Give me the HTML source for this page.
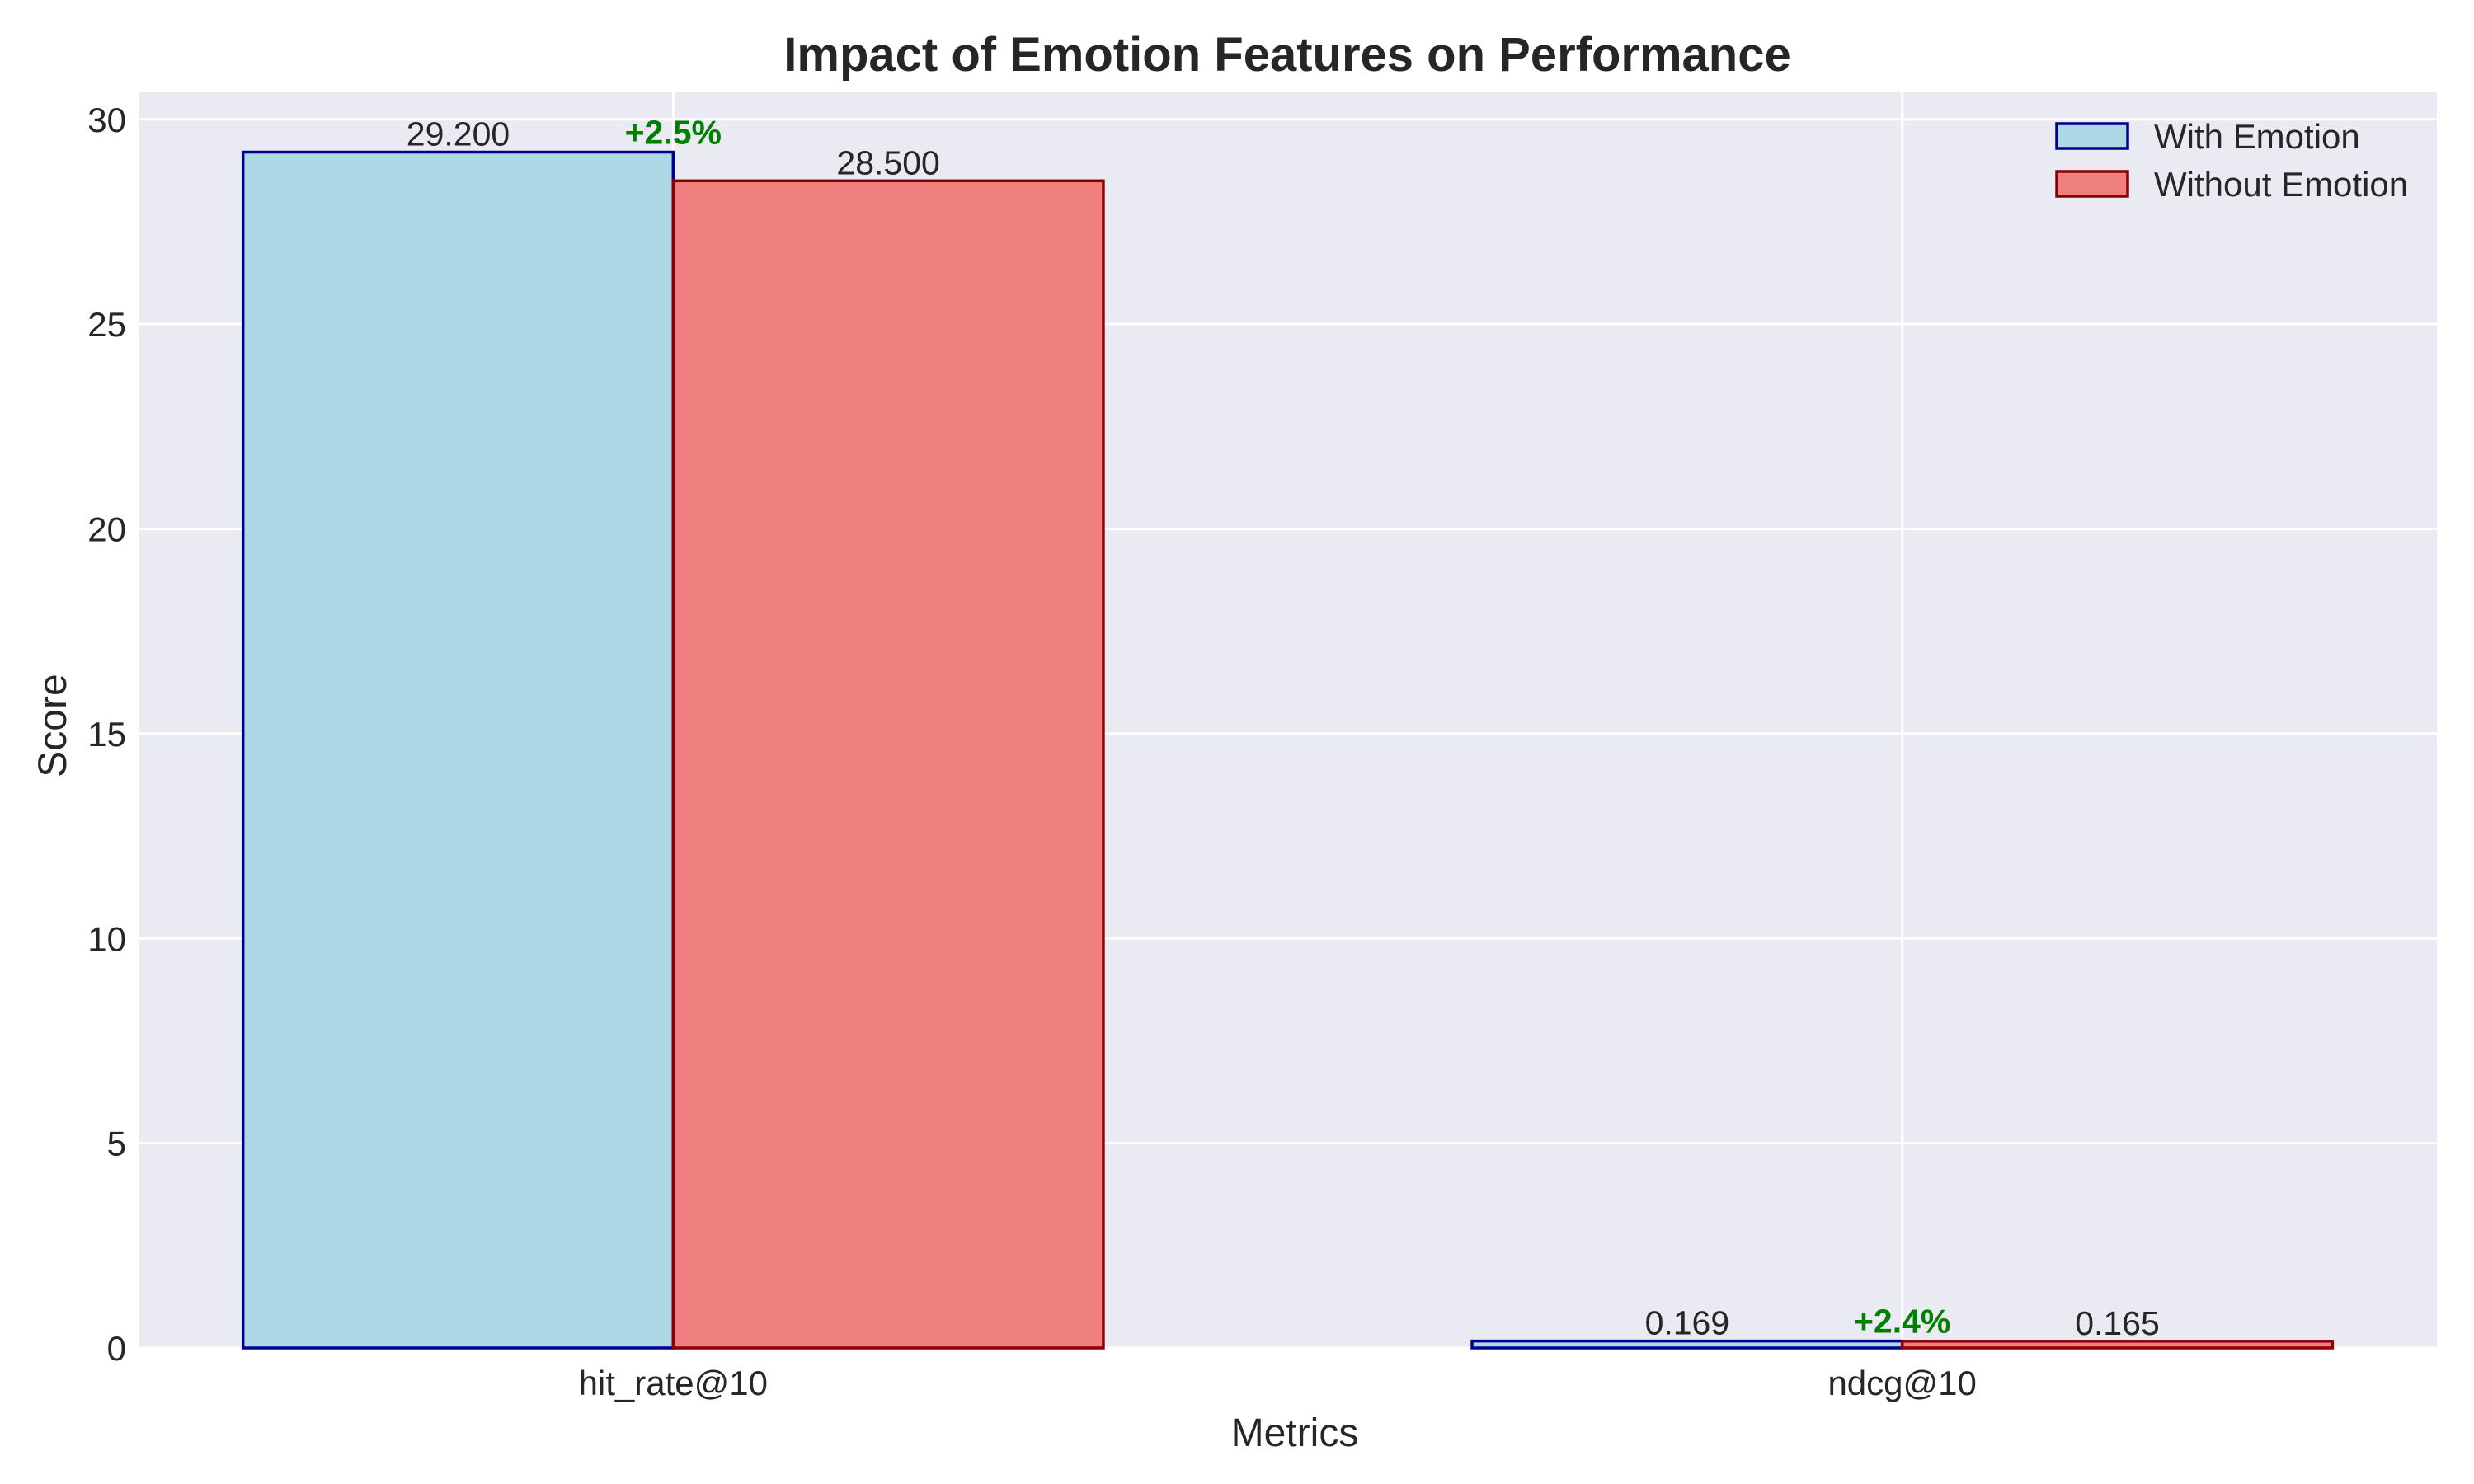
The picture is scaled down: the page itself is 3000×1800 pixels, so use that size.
<!DOCTYPE html>
<html><head><meta charset="utf-8"><style>
html,body{margin:0;padding:0;background:#fff;}
svg{display:block;font-family:"Liberation Sans",Arial,sans-serif;}
</style></head><body>
<svg id="chart" width="3000" height="1800" viewBox="0 0 3000 1800">
<rect x="0" y="0" width="3000" height="1800" fill="#ffffff"/>
<text x="1561" y="86" text-anchor="middle" font-size="58" font-weight="bold" fill="#262626">Impact of Emotion Features on Performance</text>
<rect x="168" y="112" width="2787" height="1523" fill="#eaeaf2"/>
<g id="grid"></g>
<g id="bars"></g>
<g id="labels"></g>
<g id="ticks"></g>
<text x="80" y="880" text-anchor="middle" font-size="48" fill="#262626" transform="rotate(-90 80 880)">Score</text>
<text x="1570" y="1754" text-anchor="middle" font-size="48" fill="#262626">Metrics</text>
<g>
<rect x="2494" y="150" width="86" height="30" fill="#add8e6" stroke="#00008b" stroke-width="3.5"/>
<text x="2612" y="180" font-size="42" fill="#262626">With Emotion</text>
<rect x="2494" y="208" width="86" height="30" fill="#f08080" stroke="#8b0000" stroke-width="3.5"/>
<text x="2612" y="238" font-size="42" fill="#262626">Without Emotion</text>
</g>
</svg>
<script>
const categories = ["hit_rate@10", "ndcg@10"];
const withEmotion = [29.2, 0.169];
const withoutEmotion = [28.5, 0.165];
const improvements = ["+2.5%", "+2.4%"];
const yTicks = [0, 5, 10, 15, 20, 25, 30];

const NS = "http://www.w3.org/2000/svg";
const L = 168, R = 2955, T = 112, B = 1635;
const xMin = -0.435, xMax = 1.435, yMin = 0, yMax = 30.66;
const barW = 0.35;
function xs(v){ return L + (v - xMin) / (xMax - xMin) * (R - L); }
function ys(v){ return B - (v - yMin) / (yMax - yMin) * (B - T); }
function mk(tag, attrs, parent){
  const e = document.createElementNS(NS, tag);
  for (const k in attrs) e.setAttribute(k, attrs[k]);
  parent.appendChild(e);
  return e;
}
const grid = document.getElementById('grid');
const bars = document.getElementById('bars');
const labels = document.getElementById('labels');
const ticks = document.getElementById('ticks');

yTicks.forEach(t => {
  const y = ys(t);
  const g = mk('line', {x1:L, x2:R, y1:y, y2:y, stroke:'#ffffff', 'stroke-width':3}, grid);
  
  
  const tx = mk('text', {x:153, y:y+15, 'text-anchor':'end', 'font-size':42, fill:'#262626'}, ticks);
  tx.textContent = t;
  
  
});
categories.forEach((c, i) => {
  const x = xs(i);
  const g = mk('line', {x1:x, x2:x, y1:T, y2:B, stroke:'#ffffff', 'stroke-width':3}, grid);
  
  
  const tx = mk('text', {x:x, y:1692, 'text-anchor':'middle', 'font-size':42, fill:'#262626'}, ticks);
  tx.textContent = c;
  
  

  const x1 = xs(i - barW), x2 = xs(i), x3 = xs(i + barW);
  const yw = ys(withEmotion[i]), yo = ys(withoutEmotion[i]);
  const b1 = mk('rect', {x:x1, y:yw, width:x2-x1, height:B-yw, fill:'#add8e6', stroke:'#00008b', 'stroke-width':3.5}, bars);
  
  
  const b2 = mk('rect', {x:x2, y:yo, width:x3-x2, height:B-yo, fill:'#f08080', stroke:'#8b0000', 'stroke-width':3.5}, bars);
  
  

  const prec = 3;
  const l1 = mk('text', {x:(x1+x2)/2, y:yw-8, 'text-anchor':'middle', 'font-size':41, fill:'#262626'}, labels);
  l1.textContent = withEmotion[i].toFixed(prec);
  
  
  const l2 = mk('text', {x:(x2+x3)/2, y:yo-8, 'text-anchor':'middle', 'font-size':41, fill:'#262626'}, labels);
  l2.textContent = withoutEmotion[i].toFixed(prec);
  
  
  const top = Math.min(yw, yo);
  const p = mk('text', {x:x2, y:top-10, 'text-anchor':'middle', 'font-size':41, 'font-weight':'bold', fill:'#008000'}, labels);
  p.textContent = improvements[i];
  
  
});
</script>
</body></html>
